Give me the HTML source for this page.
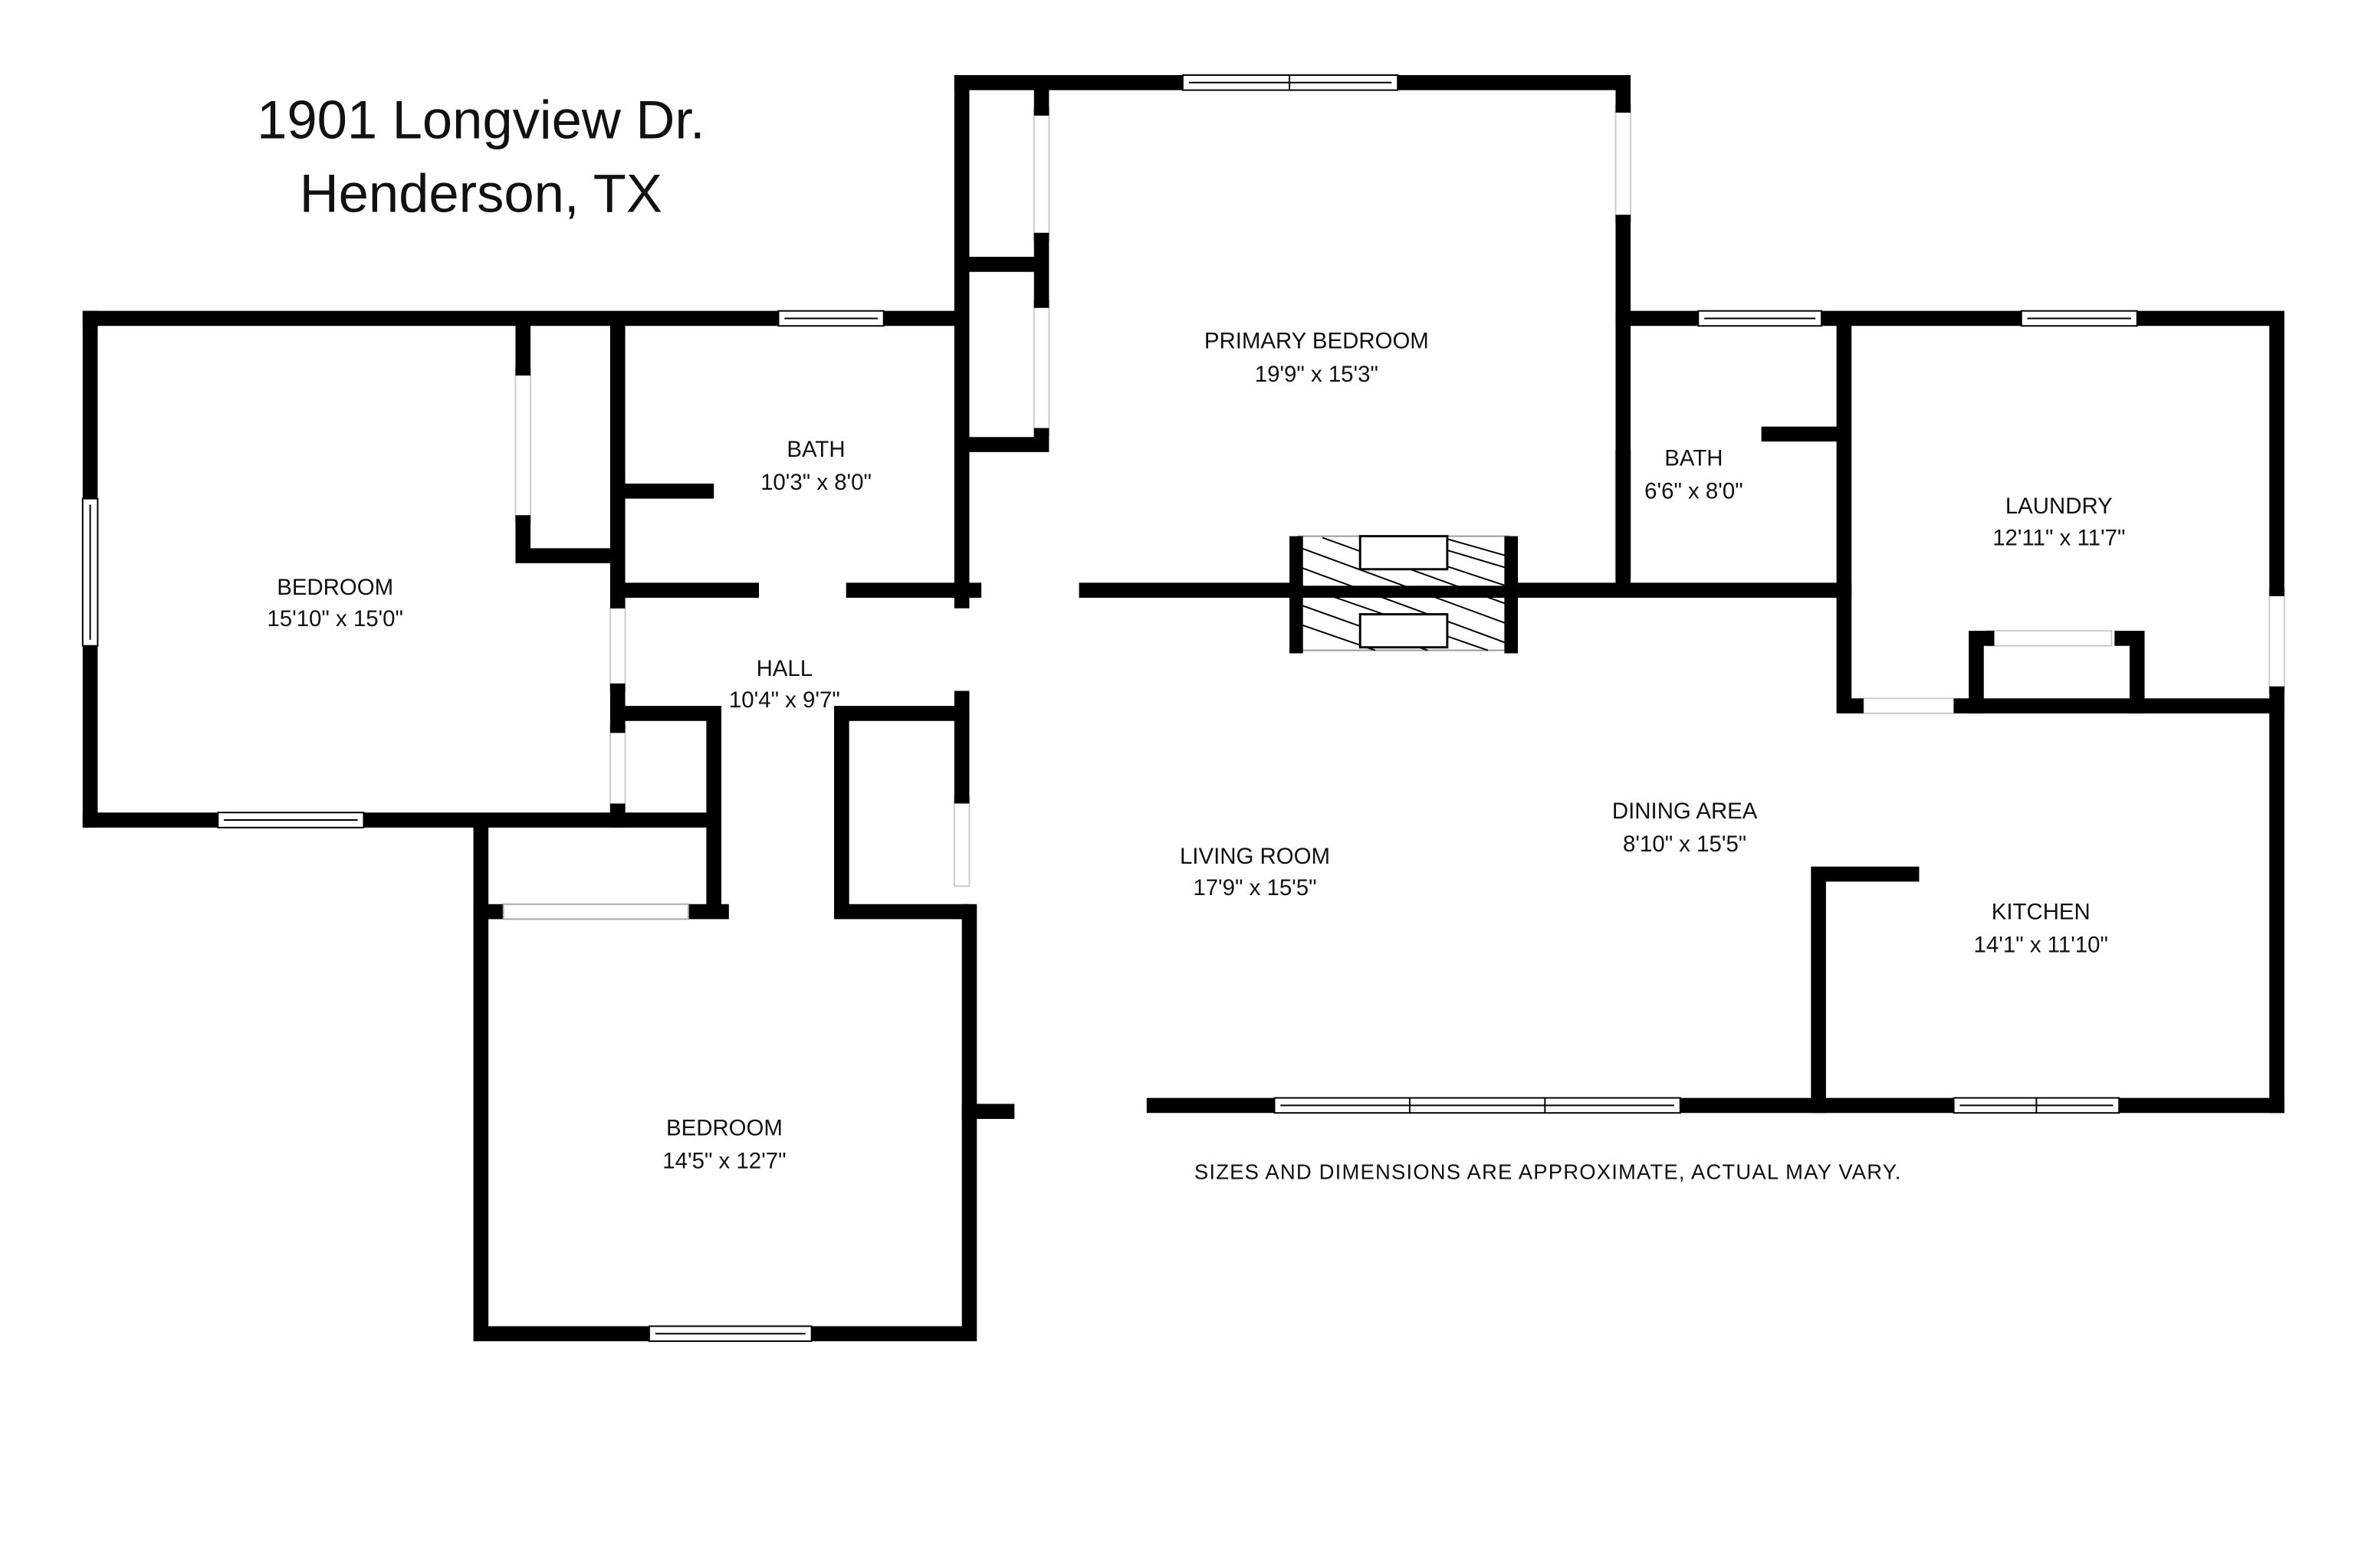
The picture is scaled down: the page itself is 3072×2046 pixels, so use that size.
<!DOCTYPE html>
<html><head><meta charset="utf-8"><style>
html,body{margin:0;padding:0;background:#fff;}
svg{display:block;}
text{font-family:"Liberation Sans",sans-serif;fill:#111;}
</style></head><body>
<svg width="3072" height="2046" viewBox="0 0 1567 1044" preserveAspectRatio="none" xmlns="http://www.w3.org/2000/svg">
<rect width="1567" height="1044" fill="#fff"/>
<!-- faint opening outlines -->
<g fill="#fff" stroke="#ccc" stroke-width="1">
<rect x="688" y="72" width="10" height="88"/>
<rect x="688" y="200" width="10" height="90"/>
<rect x="1075" y="70" width="10" height="78"/>
<rect x="1075" y="300" width="10" height="85"/>
<rect x="343" y="245" width="10" height="103"/>
<rect x="1510" y="392" width="10" height="70"/>
<rect x="1240" y="465" width="60" height="10"/>
<rect x="1322" y="420" width="83" height="10"/>
<rect x="406" y="405" width="10" height="55"/>
<rect x="406" y="483" width="10" height="57"/>
<rect x="635" y="530" width="10" height="60"/>
</g>
<g stroke="#000" stroke-width="10" fill="none" stroke-linecap="square">
<path d="M60 212 H636"/>
<path d="M60 212 V332 M60 430 V546"/>
<path d="M60 546 H475"/>
<path d="M348 217 V245 M348 348 V370 H408"/>
<path d="M411 217 V400 M411 460 V483 M411 540 V546"/>
<path d="M416 327 H470"/>
<path d="M416 393 H500 M568 393 H648"/>
<path d="M416 475 H475 V607 M460 607 H480"/>
<path d="M640 475 H560 V607 H640"/>
<path d="M320 551 V888 H645 V607"/>
<path d="M320 607 H332"/>
<path d="M645 740 H670"/>
<path d="M640 55 V400 M640 465 V530"/>
<path d="M640 55 H1080 V70 M1080 148 V385"/>
<path d="M693 60 V72 M693 160 V200 M693 290 V296 H648 M693 176 H648"/>
<path d="M723 393 H1227"/>
<path d="M1080 212 H1515 V392 M1515 462 V736"/>
<path d="M1227 217 V470 H1235 M1305 470 H1515"/>
<path d="M1177 289 H1222"/>
<path d="M1315 470 V425 H1322 M1422 470 V425 H1412"/>
<path d="M768 736 H1515"/>
<path d="M1210 736 V582 H1272"/>
</g>
<g>
<rect x="864" y="357" width="140" height="76" fill="#fff" stroke="#999" stroke-width="1"/>
<g stroke="#000" stroke-width="1">
<line x1="866" y1="365" x2="1002" y2="415"/><line x1="866" y1="378" x2="1002" y2="428"/>
<line x1="866" y1="390" x2="990" y2="433"/><line x1="880" y1="358" x2="1002" y2="402"/>
<line x1="905" y1="358" x2="1002" y2="390"/><line x1="935" y1="358" x2="1002" y2="378"/>
<line x1="866" y1="403" x2="950" y2="433"/><line x1="866" y1="416" x2="915" y2="433"/>
<line x1="960" y1="358" x2="1002" y2="370"/>
</g>
<rect x="905" y="357" width="58" height="22" fill="#fff" stroke="#000" stroke-width="1.5"/>
<rect x="905" y="409" width="58" height="22" fill="#fff" stroke="#000" stroke-width="1.5"/>
<rect x="858" y="357" width="9" height="78" fill="#000"/>
<rect x="1001" y="357" width="9" height="78" fill="#000"/>
<rect x="858" y="390" width="152" height="8" fill="#000"/>
</g>
<g fill="#fff" stroke="#000" stroke-width="1">
<rect x="518" y="207" width="70" height="10"/><line x1="522" y1="212" x2="584" y2="212"/>
<rect x="787" y="50" width="143" height="10"/><line x1="791" y1="55" x2="926" y2="55"/><line x1="858" y1="50" x2="858" y2="60"/>
<rect x="145" y="541" width="97" height="10"/><line x1="149" y1="546" x2="238" y2="546"/>
<rect x="55" y="332" width="10" height="98"/><line x1="60" y1="336" x2="60" y2="426"/>
<rect x="1130" y="207" width="82" height="10"/><line x1="1134" y1="212" x2="1208" y2="212"/>
<rect x="1345" y="207" width="77" height="10"/><line x1="1349" y1="212" x2="1418" y2="212"/>
<rect x="335" y="602" width="123" height="10" stroke="#aaa"/>
<rect x="432" y="883" width="108" height="10"/><line x1="436" y1="888" x2="536" y2="888"/>
<rect x="848" y="731" width="270" height="10"/><line x1="852" y1="736" x2="1114" y2="736"/><line x1="938" y1="731" x2="938" y2="741"/><line x1="1028" y1="731" x2="1028" y2="741"/>
<rect x="1300" y="731" width="110" height="10"/><line x1="1304" y1="736" x2="1406" y2="736"/><line x1="1355" y1="731" x2="1355" y2="741"/>
</g>
<text x="320" y="92" font-size="36" text-anchor="middle">1901 Longview Dr.</text>
<text x="320" y="141" font-size="36" text-anchor="middle">Henderson, TX</text>
<g font-size="15" text-anchor="middle">
<text x="876" y="232">PRIMARY BEDROOM</text><text x="876" y="254">19'9" x 15'3"</text>
<text x="543" y="304">BATH</text><text x="543" y="326">10'3" x 8'0"</text>
<text x="223" y="396">BEDROOM</text><text x="223" y="417">15'10" x 15'0"</text>
<text x="522" y="450">HALL</text><text x="522" y="471">10'4" x 9'7"</text>
<text x="1127" y="310">BATH</text><text x="1127" y="332">6'6" x 8'0"</text>
<text x="1370" y="342">LAUNDRY</text><text x="1370" y="363">12'11" x 11'7"</text>
<text x="1121" y="545">DINING AREA</text><text x="1121" y="567">8'10" x 15'5"</text>
<text x="835" y="575">LIVING ROOM</text><text x="835" y="596">17'9" x 15'5"</text>
<text x="1358" y="612">KITCHEN</text><text x="1358" y="634">14'1" x 11'10"</text>
<text x="482" y="756">BEDROOM</text><text x="482" y="778">14'5" x 12'7"</text>
</g>
<text x="1030" y="785" font-size="14" text-anchor="middle" letter-spacing="0.6">SIZES AND DIMENSIONS ARE APPROXIMATE, ACTUAL MAY VARY.</text>
</svg>
</body></html>
